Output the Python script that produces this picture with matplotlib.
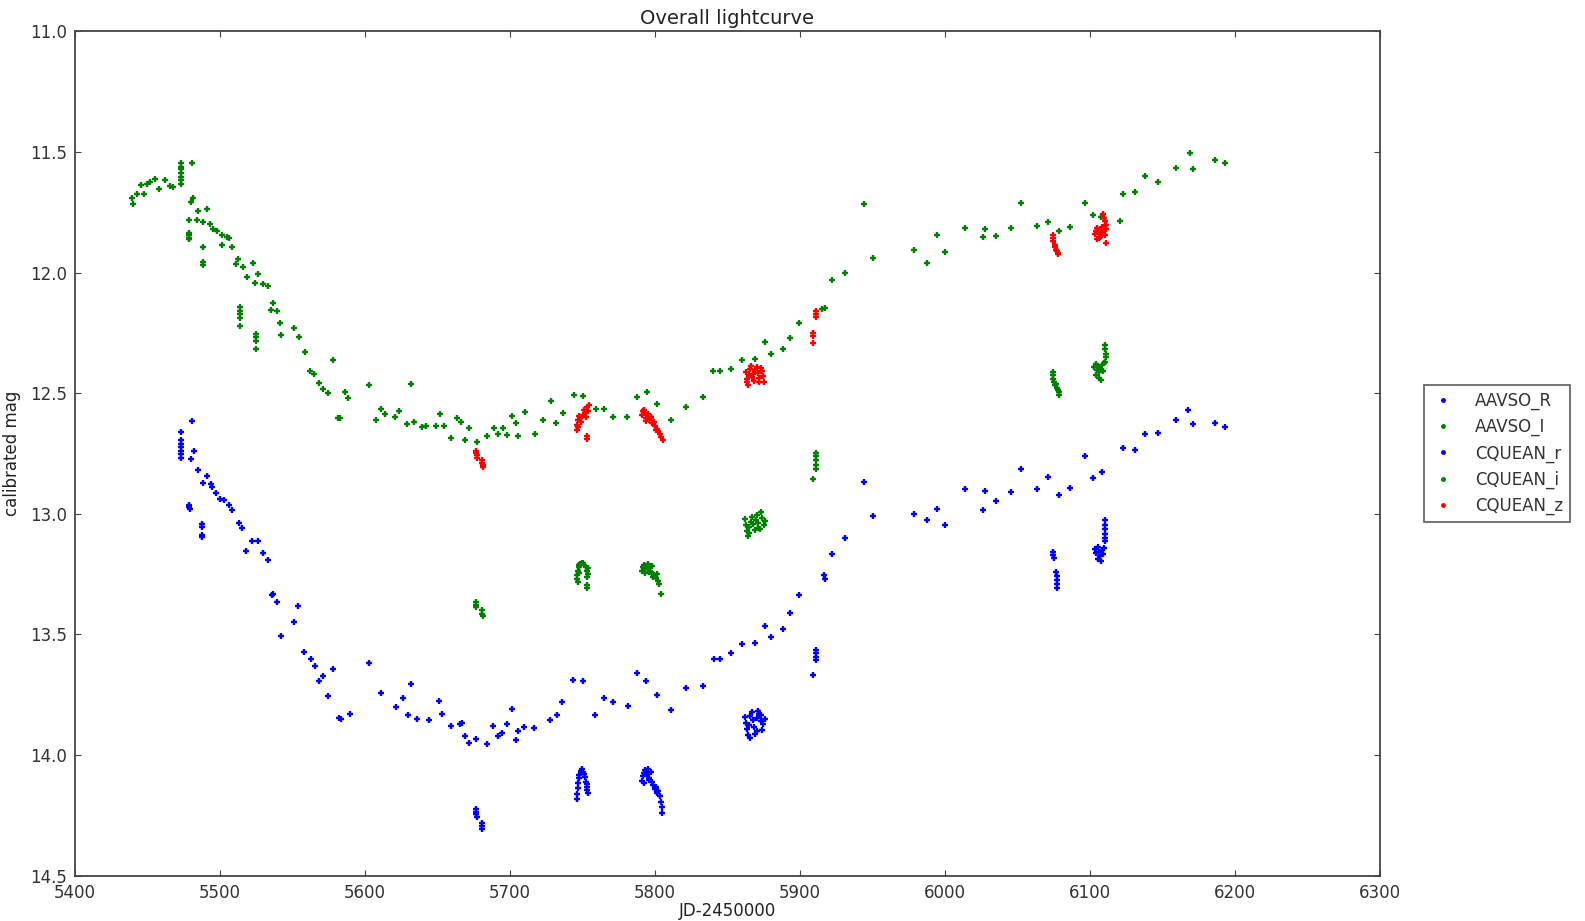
"""Overall lightcurve: AAVSO and CQUEAN photometry."""
import matplotlib
matplotlib.use("Agg")
import matplotlib.pyplot as plt
from matplotlib.lines import Line2D

# AAVSO I band
aavso_i_jd = [
    5439.8, 5439.1, 5442.5, 5445.3, 5447.8, 5449.9, 5451.7, 5455.2, 5458.2, 5462.0,
    5465.5, 5467.8, 5472.8, 5473.0, 5473.2, 5473.1, 5473.3, 5473.0, 5473.2,
    5481.0, 5480.1, 5481.6, 5485.1, 5491.0, 5478.7, 5484.4, 5488.4, 5493.1,
    5478.6, 5478.7, 5478.8, 5478.7, 5488.0, 5488.0, 5488.1, 5495.4, 5497.7,
    5501.2, 5504.6, 5506.3, 5501.2, 5508.6, 5512.5, 5511.0, 5515.6, 5522.5,
    5526.4, 5518.4, 5524.1, 5529.4, 5533.3, 5513.8, 5513.9, 5513.8, 5513.7,
    5513.8, 5524.6, 5524.6, 5524.7, 5524.6, 5536.8, 5535.1, 5539.1, 5541.5,
    5542.1, 5551.1, 5554.5, 5558.4, 5562.0, 5564.8, 5568.5, 5571.2, 5574.2,
    5578.2, 5586.2, 5588.5, 5581.5, 5583.0, 5602.8, 5610.8, 5613.8, 5607.5,
    5620.7, 5623.7, 5631.7, 5628.7, 5633.8, 5639.0, 5642.1, 5648.8, 5651.8,
    5654.7, 5659.1, 5663.2, 5666.0, 5669.0, 5672.0, 5677.0, 5683.9, 5688.9,
    5691.9, 5694.9, 5698.2, 5701.1, 5704.2, 5705.7, 5710.3, 5717.2, 5723.0,
    5728.0, 5731.7, 5736.3, 5744.0, 5750.1, 5759.1, 5764.7, 5770.8, 5780.9,
    5787.8, 5794.2, 5801.1, 5810.8, 5821.1, 5833.3, 5840.2, 5844.8, 5852.2,
    5860.0, 5869.2, 5876.0, 5880.0, 5888.0, 5893.1, 5899.1, 5917.3, 5915.4,
    5922.0, 5931.0, 5943.9, 5950.1, 5978.6, 5987.6, 5994.7, 5999.8, 6013.8,
    6026.4, 6027.6, 6035.2, 6045.8, 6052.6, 6063.7, 6070.8, 6078.6, 6086.6,
    6096.7, 6101.8, 6107.6, 6120.7, 6122.7, 6131.4, 6138.0, 6146.9, 6159.7,
    6168.7, 6170.8, 6186.6, 6192.9,
]
aavso_i_mag = [
    11.714, 11.692, 11.673, 11.638, 11.676, 11.631, 11.623, 11.613, 11.653, 11.618,
    11.643, 11.646, 11.548, 11.562, 11.571, 11.589, 11.604, 11.618, 11.632,
    11.546, 11.708, 11.692, 11.746, 11.737, 11.781, 11.781, 11.791, 11.797,
    11.835, 11.845, 11.855, 11.862, 11.894, 11.956, 11.969, 11.821, 11.828,
    11.846, 11.853, 11.856, 11.887, 11.894, 11.946, 11.963, 11.977, 11.960,
    12.008, 12.019, 12.043, 12.046, 12.057, 12.143, 12.158, 12.170, 12.190,
    12.221, 12.254, 12.268, 12.282, 12.318, 12.127, 12.154, 12.161, 12.210,
    12.260, 12.232, 12.269, 12.330, 12.408, 12.419, 12.457, 12.484, 12.499,
    12.361, 12.494, 12.519, 12.602, 12.602, 12.465, 12.565, 12.587, 12.610,
    12.599, 12.573, 12.461, 12.630, 12.619, 12.641, 12.636, 12.635, 12.585,
    12.636, 12.687, 12.605, 12.619, 12.695, 12.645, 12.702, 12.679, 12.645,
    12.670, 12.645, 12.672, 12.594, 12.626, 12.676, 12.579, 12.668, 12.610,
    12.534, 12.624, 12.583, 12.506, 12.513, 12.565, 12.567, 12.600, 12.597,
    12.516, 12.497, 12.546, 12.612, 12.558, 12.516, 12.408, 12.408, 12.402,
    12.363, 12.360, 12.290, 12.336, 12.319, 12.270, 12.210, 12.148, 12.152,
    12.031, 12.000, 11.714, 11.940, 11.908, 11.960, 11.843, 11.915, 11.817,
    11.852, 11.820, 11.850, 11.814, 11.712, 11.808, 11.791, 11.826, 11.813,
    11.712, 11.760, 11.769, 11.786, 11.673, 11.665, 11.598, 11.626, 11.565,
    11.504, 11.572, 11.535, 11.547,
]

# AAVSO R band
aavso_r_jd = [
    5481.0, 5473.1, 5473.2, 5473.3, 5473.1, 5473.2, 5473.3, 5473.2, 5482.2,
    5480.1, 5485.1, 5491.2, 5488.0, 5493.6, 5494.3, 5497.2, 5500.0, 5503.0,
    5506.2, 5508.0, 5478.8, 5478.9, 5479.0, 5487.8, 5487.8, 5487.9, 5487.8,
    5513.1, 5514.9, 5521.9, 5525.9, 5517.9, 5529.4, 5533.3, 5535.6, 5536.8,
    5539.1, 5554.0, 5551.3, 5542.0, 5558.2, 5562.5, 5565.3, 5578.2, 5571.2,
    5568.5, 5574.5, 5581.8, 5583.2, 5589.4, 5602.8, 5610.8, 5621.5, 5626.4,
    5629.9, 5631.7, 5636.2, 5643.9, 5650.8, 5652.9, 5659.2, 5665.4, 5666.7,
    5669.0, 5672.0, 5676.6, 5683.9, 5688.5, 5691.9, 5694.7, 5697.7, 5701.1,
    5703.9, 5705.7, 5709.9, 5716.8, 5727.6, 5732.2, 5736.1, 5743.7, 5750.1,
    5758.6, 5764.8, 5771.1, 5781.2, 5787.8, 5794.0, 5801.1, 5810.8, 5821.1,
    5833.1, 5840.9, 5844.8, 5852.2, 5860.0, 5869.0, 5875.8, 5880.0, 5888.0,
    5893.1, 5899.1, 5916.8, 5917.3, 5922.0, 5931.0, 5943.9, 5950.1, 5978.6,
    5987.6, 5994.7, 5999.8, 6013.8, 6026.4, 6027.6, 6035.2, 6045.8, 6052.6,
    6063.7, 6070.8, 6078.6, 6086.6, 6096.7, 6101.8, 6108.0, 6122.7, 6131.4,
    6138.0, 6146.9, 6159.7, 6167.4, 6170.8, 6186.6, 6193.1,
]
aavso_r_mag = [
    12.617, 12.662, 12.696, 12.710, 12.725, 12.738, 12.751, 12.771, 12.740,
    12.772, 12.820, 12.845, 12.872, 12.876, 12.889, 12.914, 12.938, 12.945,
    12.962, 12.986, 12.964, 12.972, 12.980, 13.043, 13.057, 13.090, 13.097,
    13.039, 13.059, 13.113, 13.115, 13.156, 13.163, 13.193, 13.338, 13.331,
    13.366, 13.383, 13.449, 13.507, 13.573, 13.601, 13.633, 13.642, 13.671,
    13.695, 13.756, 13.846, 13.850, 13.830, 13.621, 13.743, 13.800, 13.763,
    13.834, 13.704, 13.850, 13.855, 13.775, 13.830, 13.880, 13.870, 13.866,
    13.921, 13.949, 13.936, 13.956, 13.880, 13.921, 13.909, 13.873, 13.808,
    13.940, 13.902, 13.884, 13.888, 13.857, 13.836, 13.780, 13.688, 13.695,
    13.836, 13.766, 13.779, 13.797, 13.662, 13.693, 13.752, 13.812, 13.724,
    13.714, 13.604, 13.604, 13.577, 13.540, 13.538, 13.466, 13.512, 13.478,
    13.411, 13.338, 13.255, 13.269, 13.167, 13.101, 12.868, 13.009, 13.003,
    13.025, 12.979, 13.046, 12.897, 12.985, 12.904, 12.948, 12.912, 12.813,
    12.896, 12.847, 12.923, 12.893, 12.760, 12.850, 12.829, 12.728, 12.734,
    12.668, 12.666, 12.612, 12.568, 12.628, 12.624, 12.639,
]

# CQUEAN r band
cquean_r_jd = [
    5676.5, 5676.7, 5676.9, 5677.1, 5680.4, 5680.7, 5681.0,
    5746.2, 5746.5, 5746.8, 5747.1, 5747.4, 5747.9, 5748.9, 5749.8, 5750.5,
    5751.4, 5752.1, 5752.6, 5753.0, 5753.4, 5753.8, 5752.9,
    5790.9, 5791.7, 5792.5, 5793.4, 5794.3, 5795.2, 5796.1, 5797.0, 5797.9,
    5798.8, 5799.7, 5800.6, 5801.5, 5802.4, 5803.3, 5804.2, 5804.7, 5805.1,
    5792.2, 5795.8,
    5862.2, 5862.9, 5863.5, 5864.1, 5864.9, 5865.8, 5866.7, 5867.5, 5868.4,
    5869.3, 5870.2, 5871.1, 5872.0, 5872.9, 5873.8, 5874.7, 5875.6, 5865.3,
    5870.6, 5873.4,
    5910.8, 5910.8, 5910.8, 5910.8, 5909.2,
    6074.6, 6074.8, 6075.0, 6076.8, 6077.0, 6077.2, 6077.4, 6077.1,
    6110.3, 6110.3, 6110.3, 6110.3, 6110.3, 6110.3,
    6103.5, 6104.4, 6105.3, 6106.2, 6107.1, 6108.0, 6108.9, 6109.8, 6105.8, 6107.6,
]
cquean_r_mag = [
    14.226, 14.236, 14.245, 14.258, 14.283, 14.296, 14.309,
    14.184, 14.162, 14.139, 14.118, 14.096, 14.082, 14.066, 14.057, 14.071,
    14.079, 14.093, 14.112, 14.131, 14.145, 14.159, 14.121,
    14.108, 14.089, 14.074, 14.062, 14.081, 14.058, 14.095, 14.071, 14.112,
    14.126, 14.141, 14.133, 14.158, 14.149, 14.172, 14.194, 14.218, 14.242,
    14.118, 14.103,
    13.842, 13.869, 13.893, 13.918, 13.874, 13.838, 13.821, 13.856, 13.884,
    13.912, 13.848, 13.817, 13.829, 13.861, 13.897, 13.871, 13.853, 13.931,
    13.902, 13.836,
    13.567, 13.579, 13.593, 13.606, 13.669,
    13.159, 13.171, 13.184, 13.242, 13.258, 13.274, 13.291, 13.306,
    13.028, 13.046, 13.064, 13.083, 13.101, 13.115,
    13.146, 13.161, 13.139, 13.158, 13.174, 13.152, 13.167, 13.141, 13.188, 13.197,
]

# CQUEAN i band
cquean_i_jd = [
    5676.5, 5676.7, 5676.9, 5680.6, 5680.9, 5681.2,
    5746.1, 5746.5, 5746.9, 5747.3, 5746.7, 5747.9, 5748.6, 5749.5, 5750.4,
    5751.3, 5752.4, 5753.0, 5753.6, 5754.1, 5753.3, 5752.8, 5753.2, 5747.6,
    5790.9, 5791.6, 5792.4, 5793.3, 5794.2, 5795.1, 5796.0, 5796.9, 5797.8,
    5798.6, 5799.6, 5800.4, 5801.2, 5802.0, 5802.8, 5804.4, 5792.8, 5795.6, 5799.0,
    5862.3, 5863.0, 5863.6, 5864.2, 5865.1, 5866.0, 5866.9, 5867.8, 5868.7,
    5869.6, 5870.5, 5871.4, 5872.3, 5873.2, 5874.1, 5875.0, 5875.7, 5864.8, 5870.9,
    5910.8, 5910.8, 5910.8, 5910.8, 5910.8, 5909.2,
    6074.2, 6074.4, 6074.7, 6075.4, 6076.0, 6076.5, 6077.2, 6077.7, 6078.4, 6078.9,
    6110.3, 6110.6, 6110.9, 6111.2, 6110.5, 6103.0, 6103.9, 6104.7, 6105.5,
    6106.4, 6107.2, 6108.1, 6108.9, 6109.7, 6104.5, 6106.2, 6107.5,
]
cquean_i_mag = [
    13.366, 13.377, 13.386, 13.401, 13.414, 13.426,
    13.272, 13.255, 13.236, 13.219, 13.283, 13.212, 13.208, 13.203, 13.205,
    13.211, 13.222, 13.238, 13.251, 13.226, 13.262, 13.294, 13.309, 13.245,
    13.236, 13.221, 13.211, 13.228, 13.215, 13.207, 13.224, 13.239, 13.216,
    13.248, 13.256, 13.268, 13.251, 13.279, 13.292, 13.334, 13.247, 13.243, 13.262,
    13.021, 13.048, 13.071, 13.094, 13.056, 13.033, 13.012, 13.044, 13.068,
    13.027, 13.005, 13.038, 13.062, 12.991, 13.017, 13.046, 13.031, 13.082, 13.058,
    12.747, 12.759, 12.776, 12.797, 12.815, 12.857,
    12.413, 12.426, 12.441, 12.452, 12.466, 12.461, 12.478, 12.489, 12.497, 12.506,
    12.302, 12.318, 12.336, 12.352, 12.371, 12.392, 12.381, 12.405, 12.388,
    12.414, 12.398, 12.383, 12.409, 12.377, 12.426, 12.437, 12.445,
]

# CQUEAN z band
cquean_z_jd = [
    5676.7, 5676.9, 5677.1, 5677.3, 5680.6, 5680.9, 5681.2, 5681.5,
    5746.0, 5746.4, 5747.0, 5747.5, 5748.1, 5749.0, 5750.2, 5751.0, 5751.8,
    5752.6, 5753.3, 5753.9, 5754.5, 5752.9, 5753.0, 5746.8,
    5790.9, 5791.5, 5792.3, 5793.0, 5794.1, 5795.0, 5796.2, 5797.0, 5798.1,
    5799.3, 5800.2, 5801.4, 5802.3, 5803.4, 5804.5, 5805.6, 5793.6, 5797.6, 5800.8,
    5863.0, 5863.4, 5864.1, 5864.6, 5865.5, 5866.4, 5867.3, 5868.1, 5869.0,
    5870.2, 5871.1, 5872.0, 5873.1, 5874.0, 5875.0, 5863.8, 5866.8, 5871.6, 5874.6,
    5911.0, 5911.0, 5911.0, 5909.2, 5909.2, 5909.2,
    6074.3, 6074.5, 6074.8, 6075.6, 6076.1, 6076.6, 6077.4, 6077.8, 6078.3,
    6109.3, 6109.8, 6110.4, 6110.9, 6103.5, 6104.2, 6105.0, 6105.9, 6106.8,
    6107.6, 6108.5, 6109.4, 6110.3, 6111.3, 6104.6, 6106.3, 6108.1, 6110.8,
]
cquean_z_mag = [
    12.738, 12.748, 12.757, 12.768, 12.778, 12.789, 12.797, 12.808,
    12.655, 12.632, 12.611, 12.594, 12.604, 12.618, 12.589, 12.571, 12.582,
    12.600, 12.557, 12.576, 12.551, 12.676, 12.692, 12.642,
    12.592, 12.575, 12.568, 12.581, 12.603, 12.588, 12.611, 12.597, 12.626,
    12.619, 12.638, 12.647, 12.659, 12.668, 12.681, 12.696, 12.616, 12.605, 12.652,
    12.412, 12.441, 12.466, 12.425, 12.398, 12.389, 12.421, 12.448, 12.403,
    12.392, 12.417, 12.436, 12.395, 12.409, 12.452, 12.455, 12.433, 12.456, 12.428,
    12.160, 12.172, 12.186, 12.250, 12.262, 12.294,
    11.846, 11.858, 11.870, 11.884, 11.895, 11.906, 11.910, 11.918, 11.924,
    11.758, 11.772, 11.786, 11.801, 11.842, 11.826, 11.815, 11.834, 11.852,
    11.821, 11.812, 11.829, 11.846, 11.818, 11.861, 11.858, 11.839, 11.879,
]

series = [
    ("AAVSO_R", aavso_r_jd, aavso_r_mag, "#0000ff"),
    ("AAVSO_I", aavso_i_jd, aavso_i_mag, "#008000"),
    ("CQUEAN_r", cquean_r_jd, cquean_r_mag, "#0000ff"),
    ("CQUEAN_i", cquean_i_jd, cquean_i_mag, "#008000"),
    ("CQUEAN_z", cquean_z_jd, cquean_z_mag, "#ff0000"),
]

fig = plt.figure(figsize=(15.85, 9.21), dpi=100)
ax = fig.add_axes([0.0473, 0.0494, 0.8233, 0.9166])

handles = []
for name, jd, mag, col in series:
    ax.plot(jd, mag, linestyle="none", marker="+", markersize=5,
            markeredgewidth=1.7, color=col)
    handles.append(Line2D([], [], linestyle="none", marker=".", markersize=5,
                          color=col, label=name))

ax.set_xlim(5400, 6300)
ax.set_ylim(14.5, 11.0)
ax.set_xticks(range(5400, 6301, 100))
ax.set_yticks([11.0, 11.5, 12.0, 12.5, 13.0, 13.5, 14.0, 14.5])
ax.yaxis.set_major_formatter(matplotlib.ticker.FormatStrFormatter("%.1f"))

for s in ax.spines.values():
    s.set_color("#444444")
    s.set_linewidth(1.3)
ax.tick_params(direction="in", top=True, right=True, length=4,
               labelsize=12, colors="#444444", labelcolor="#333333", pad=6)

ax.set_title("Overall lightcurve", fontsize=14, color="#222222", pad=5)
ax.set_xlabel("JD-2450000", fontsize=12, color="#222222", labelpad=0)
ax.set_ylabel("calibrated mag", fontsize=12, color="#222222", labelpad=6)

leg = ax.legend(handles=handles, loc="center left", bbox_to_anchor=(1.034, 0.5),
                borderaxespad=0, numpoints=1, fontsize=12, fancybox=False,
                borderpad=0.4, handlelength=1.4, handletextpad=1.25,
                labelspacing=0.49)
leg.get_frame().set_edgecolor("#444444")
leg.get_frame().set_linewidth(1.3)
for t in leg.get_texts():
    t.set_color("#333333")

fig.savefig("out.png", dpi=100, facecolor="white")
